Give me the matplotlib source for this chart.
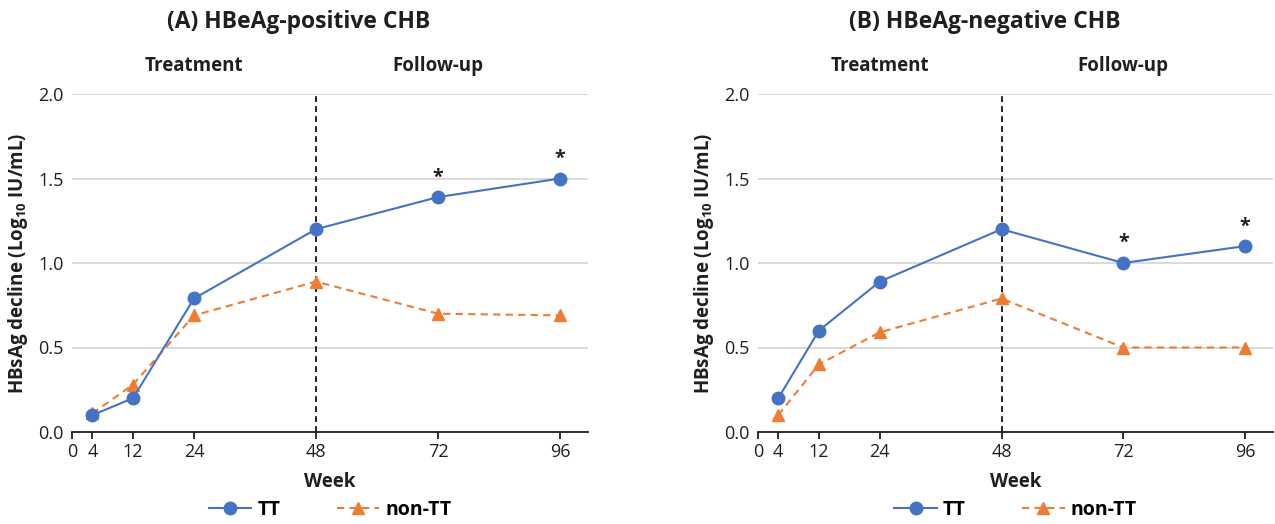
import matplotlib
matplotlib.use('Agg')
import matplotlib.pyplot as plt
import matplotlib.transforms as mtransforms

plt.rcParams['font.family'] = ['Open Sans', 'DejaVu Sans']
plt.rcParams['mathtext.fontset'] = 'custom'
plt.rcParams['mathtext.rm'] = 'Open Sans'
plt.rcParams['mathtext.bf'] = 'Open Sans:bold'

# data
weeks = [4, 12, 24, 48, 72, 96]
tick_weeks = [0, 4, 12, 24, 48, 72, 96]
pos_tt = [0.10, 0.20, 0.79, 1.20, 1.39, 1.50]
pos_nontt = [0.11, 0.28, 0.69, 0.89, 0.70, 0.69]
neg_tt = [0.20, 0.60, 0.89, 1.20, 1.00, 1.10]
neg_nontt = [0.10, 0.40, 0.59, 0.79, 0.50, 0.50]
signif_weeks = [72, 96]
titles = ['(A) HBeAg-positive CHB', '(B) HBeAg-negative CHB']
phases = [('Treatment', 24), ('Follow-up', 72)]

BLUE = '#4472C4'
ORANGE = '#ED7D31'
INK = '#1f1f1f'
W, H = 1275, 524

fig = plt.figure(figsize=(W / 100, H / 100), dpi=100)
axA = fig.add_axes([72 / W, 1 - 432 / H, 516 / W, 338 / H])
axB = fig.add_axes([758 / W, 1 - 432 / H, 515 / W, 338 / H])


def draw_panel(ax, tt, nontt, title, title_x):
    ax.plot(weeks, tt, color=BLUE, lw=1.5, marker='o', ms=9, label='TT',
            clip_on=False, zorder=4)
    ax.plot(weeks, nontt, color=ORANGE, lw=1.5, ls=(0, (3.5, 2.5)), marker='^',
            ms=8.5, label='non-TT', clip_on=False, zorder=3)
    ax.axvline(48, color='black', lw=1.2, ls=(0, (3.5, 2.5)), zorder=2)

    # significance asterisks on TT
    for w in signif_weeks:
        v = tt[weeks.index(w)]
        ax.annotate('*', (w, v), xytext=(0, 7), textcoords='offset points',
                    ha='center', va='bottom', fontsize=14, fontweight='bold',
                    color=INK)

    ax.set_xlim(0, 101.5)
    ax.set_ylim(0, 2.0)
    ax.set_xticks(tick_weeks)
    ax.set_yticks([0.0, 0.5, 1.0, 1.5, 2.0])
    ax.set_yticklabels(['0.0', '0.5', '1.0', '1.5', '2.0'])
    ax.yaxis.grid(True, color='#D9D9D9', lw=1.4)
    ax.set_axisbelow(True)
    for s in ['left', 'right', 'top']:
        ax.spines[s].set_visible(False)
    ax.spines['bottom'].set_color(INK)
    ax.spines['bottom'].set_linewidth(1.3)
    ax.tick_params(axis='x', length=5, width=1.3, color=INK,
                   labelsize=13, pad=3, labelcolor=INK)
    ax.tick_params(axis='y', length=0, labelsize=13, pad=6,
                   labelcolor=INK)

    ax.set_xlabel('Week', fontsize=13.5, fontweight='bold', labelpad=8,
                  color=INK)
    ax.set_ylabel(r'HBsAg decline (Log$_{\mathbf{10}}$ IU/mL)', fontsize=13.5,
                  fontweight='bold', color=INK, labelpad=6)

    trans = mtransforms.blended_transform_factory(ax.transData, ax.transAxes)
    for name, x in phases:
        ax.text(x, 1.083, name, transform=trans, ha='center', va='center',
                fontsize=13.5, fontweight='bold', color=INK)

    fig.text(title_x / W, 1 - 22 / H, title, ha='center', va='center',
             fontsize=16.5, fontweight='bold', color=INK)

    ax.legend(loc='center', bbox_to_anchor=(0.5, -0.231), ncol=2,
              frameon=False, handlelength=2.2, markerscale=1.0,
              handletextpad=0.3, columnspacing=2.9,
              prop={'weight': 'bold', 'size': 14})


draw_panel(axA, pos_tt, pos_nontt, titles[0], 299)
draw_panel(axB, neg_tt, neg_nontt, titles[1], 985)

fig.savefig('out.png', dpi=100)
